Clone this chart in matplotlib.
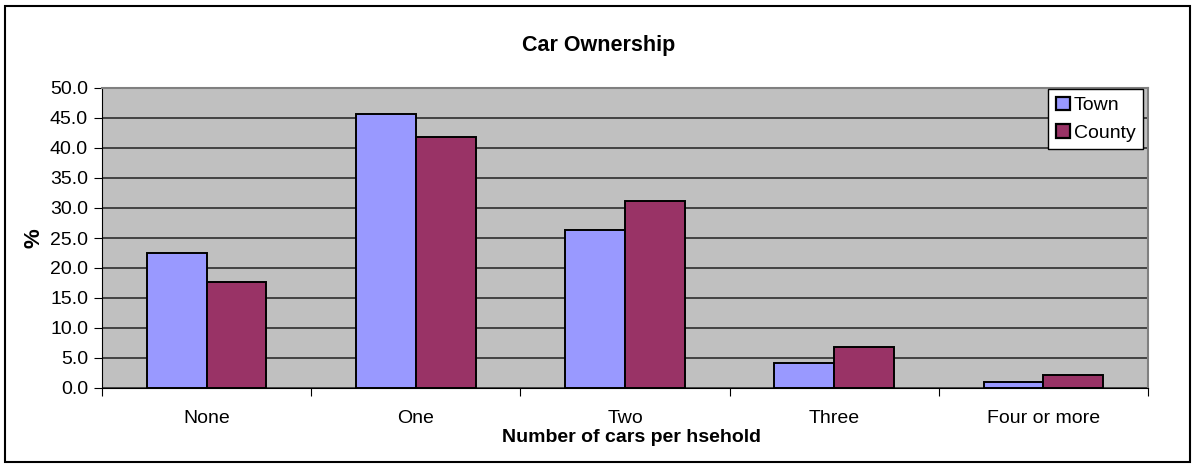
import numpy as np
import matplotlib.pyplot as plt
from matplotlib.patches import Rectangle

plt.rcParams['font.family'] = ['Liberation Sans', 'DejaVu Sans']

# Data
categories = ['None', 'One', 'Two', 'Three', 'Four or more']
town = [22.5, 45.7, 26.4, 4.2, 1.0]
county = [17.6, 41.9, 31.2, 6.8, 2.2]

fig = plt.figure(figsize=(11.97, 4.68), dpi=100)
ax = fig.add_axes([102 / 1197, 1 - 388 / 468, 1046 / 1197, 300 / 468])

# outer chart border
fig.patches.append(Rectangle((5 / 1197, 6 / 468), 1185 / 1197, 456 / 468,
                             transform=fig.transFigure, fill=False,
                             edgecolor='black', linewidth=1.5))

x = np.arange(len(categories))
w = 1 / 3.5
ax.bar(x - w / 2, town, w, color='#9999ff', edgecolor='black', linewidth=1.4,
       label='Town', zorder=3)
ax.bar(x + w / 2, county, w, color='#993366', edgecolor='black', linewidth=1.4,
       label='County', zorder=3)

ax.set_facecolor('#c0c0c0')
ax.set_xlim(-0.5, len(categories) - 0.5)
ax.set_ylim(0, 50)
yt = np.arange(0, 50.1, 5)
ax.set_yticks(yt)
ax.set_yticklabels([f'{v:.1f}' for v in yt], fontsize=14)
ax.yaxis.grid(True, color='#202020', linewidth=1.1, zorder=1)
ax.set_axisbelow(True)

# category boundaries get the tick marks, names sit in between
ax.set_xticks(np.arange(-0.5, len(categories), 1))
ax.set_xticklabels([])
ax.set_xticks(x, minor=True)
ax.set_xticklabels(categories, minor=True, fontsize=14)
ax.tick_params(axis='x', which='minor', length=0, pad=16)
ax.tick_params(axis='x', which='major', length=6, direction='out')
ax.tick_params(axis='y', length=6, direction='out', pad=4)

for s in ['top', 'right']:
    ax.spines[s].set_color('#808080')
    ax.spines[s].set_linewidth(1.5)
for s in ['left', 'bottom']:
    ax.spines[s].set_color('black')

fig.text(0.5, 1 - 45 / 468, 'Car Ownership', fontsize=15.5, fontweight='bold',
         ha='center', va='center')
ax.set_xlabel('Number of cars per hsehold', fontsize=14, fontweight='bold')
ax.xaxis.set_label_coords((631 - 102) / 1046, -(437 - 388) / 300)
ax.xaxis.label.set_va('center')
ax.set_ylabel('%', fontsize=16, fontweight='bold')
ax.yaxis.set_label_coords(-(102 - 34) / 1046, (388 - 238) / 300)
ax.yaxis.label.set_va('center')

leg = ax.legend(loc='upper right', bbox_to_anchor=(0.9955, 0.997), fontsize=14,
                frameon=True, fancybox=False, framealpha=1, borderaxespad=0,
                handlelength=0.7, handleheight=0.7, handletextpad=0.2,
                borderpad=0.4, labelspacing=0.5)
leg.get_frame().set_facecolor('white')
leg.get_frame().set_edgecolor('black')
leg.get_frame().set_linewidth(1)
for h in leg.legend_handles:
    h.set_linewidth(1.6)

fig.savefig('out.png', dpi=100)
